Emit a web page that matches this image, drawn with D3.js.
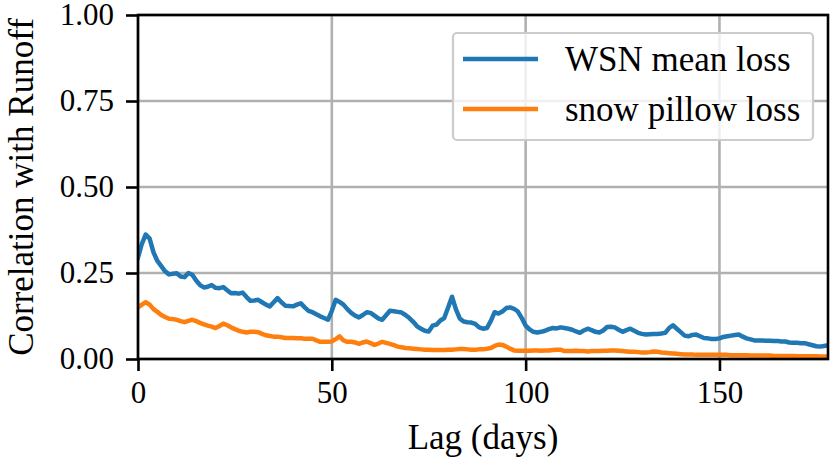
<!DOCTYPE html>
<html>
<head>
<meta charset="utf-8">
<script src="https://cdn.jsdelivr.net/npm/d3@7"></script>
<style>
  html, body { margin: 0; padding: 0; background: #fff; }
  svg { display: block; }
</style>
</head>
<body>
<svg id="chart" width="831" height="464"></svg>
<script>
// Lag-correlation between runoff and two loss estimates, lag 0..178 days
const wsnMeanLoss = [
  0.295, 0.335, 0.362, 0.350, 0.310, 0.285, 0.270, 0.255, 0.246, 0.248,
  0.249, 0.240, 0.238, 0.250, 0.245, 0.228, 0.215, 0.208, 0.210, 0.215,
  0.207, 0.206, 0.209, 0.200, 0.191, 0.192, 0.190, 0.193, 0.180, 0.169,
  0.170, 0.172, 0.165, 0.158, 0.153, 0.165, 0.177, 0.165, 0.155, 0.154,
  0.153, 0.158, 0.162, 0.150, 0.140, 0.136, 0.130, 0.124, 0.119, 0.114,
  0.140, 0.172, 0.166, 0.158, 0.145, 0.134, 0.126, 0.121, 0.128, 0.136,
  0.134, 0.126, 0.118, 0.114, 0.127, 0.140, 0.139, 0.137, 0.135, 0.128,
  0.119, 0.108, 0.095, 0.088, 0.082, 0.080, 0.097, 0.100, 0.112, 0.119,
  0.150, 0.181, 0.145, 0.118, 0.109, 0.107, 0.106, 0.102, 0.092, 0.088,
  0.090, 0.110, 0.136, 0.132, 0.138, 0.148, 0.150, 0.146, 0.138, 0.119,
  0.097, 0.086, 0.079, 0.077, 0.079, 0.082, 0.087, 0.090, 0.089, 0.092,
  0.090, 0.088, 0.085, 0.080, 0.076, 0.083, 0.088, 0.084, 0.079, 0.077,
  0.083, 0.093, 0.094, 0.092, 0.085, 0.079, 0.084, 0.088, 0.082, 0.076,
  0.073, 0.071, 0.072, 0.073, 0.073, 0.074, 0.076, 0.090, 0.098, 0.088,
  0.078, 0.068, 0.066, 0.070, 0.071, 0.066, 0.061, 0.060, 0.058, 0.058,
  0.060, 0.064, 0.066, 0.068, 0.070, 0.071, 0.065, 0.060, 0.057, 0.054,
  0.054, 0.054, 0.053, 0.053, 0.052, 0.052, 0.051, 0.051, 0.048, 0.047,
  0.047, 0.046, 0.046, 0.043, 0.040, 0.037, 0.036, 0.038, 0.040
];
const snowPillowLoss = [
  0.150, 0.158, 0.165, 0.158, 0.145, 0.137, 0.128, 0.122, 0.117, 0.116,
  0.114, 0.110, 0.107, 0.111, 0.114, 0.110, 0.105, 0.101, 0.097, 0.094,
  0.090, 0.096, 0.103, 0.098, 0.092, 0.087, 0.082, 0.079, 0.077, 0.079,
  0.079, 0.078, 0.073, 0.069, 0.067, 0.065, 0.065, 0.063, 0.061, 0.061,
  0.061, 0.060, 0.060, 0.059, 0.059, 0.059, 0.054, 0.050, 0.050, 0.050,
  0.051, 0.058, 0.066, 0.054, 0.050, 0.050, 0.048, 0.044, 0.048, 0.051,
  0.046, 0.041, 0.045, 0.050, 0.047, 0.044, 0.040, 0.036, 0.034, 0.032,
  0.031, 0.030, 0.029, 0.028, 0.027, 0.027, 0.026, 0.026, 0.026, 0.026,
  0.027, 0.027, 0.028, 0.029, 0.029, 0.028, 0.027, 0.027, 0.028, 0.028,
  0.030, 0.032, 0.038, 0.042, 0.041, 0.036, 0.030, 0.025, 0.024, 0.024,
  0.024, 0.024, 0.025, 0.025, 0.024, 0.025, 0.025, 0.026, 0.027, 0.027,
  0.023, 0.023, 0.023, 0.024, 0.023, 0.023, 0.022, 0.023, 0.023, 0.023,
  0.024, 0.024, 0.025, 0.025, 0.024, 0.023, 0.022, 0.021, 0.021, 0.020,
  0.019, 0.019, 0.020, 0.022, 0.021, 0.019, 0.018, 0.017, 0.016, 0.015,
  0.014, 0.013, 0.013, 0.013, 0.012, 0.012, 0.012, 0.012, 0.012, 0.012,
  0.012, 0.012, 0.012, 0.011, 0.011, 0.011, 0.011, 0.011, 0.010, 0.010,
  0.010, 0.010, 0.010, 0.010, 0.009, 0.009, 0.009, 0.009, 0.009, 0.009,
  0.008, 0.008, 0.008, 0.008, 0.008, 0.008, 0.007, 0.007, 0.007
];
const lags = d3.range(wsnMeanLoss.length);
const xTicks = [0, 50, 100, 150];
const yTicks = [0.00, 0.25, 0.50, 0.75, 1.00];
const seriesNames = ["WSN mean loss", "snow pillow loss"];
const seriesColors = ["#1f77b4", "#ff7f0e"];

const FONT = '"Liberation Serif", "Times New Roman", "DejaVu Serif", serif';

const svg = d3.select("#chart").attr("font-family", FONT);
const plot = { left: 138, right: 828, top: 15, bottom: 359 };

const x = d3.scaleLinear().domain([0, 178]).range([plot.left, plot.right]);
const y = d3.scaleLinear().domain([0, 1]).range([plot.bottom, plot.top]);

// grid
const grid = svg.append("g");
grid.selectAll("line.gx").data(xTicks).join("line")
  .attr("x1", d => x(d)).attr("x2", d => x(d))
  .attr("y1", plot.top).attr("y2", plot.bottom)
  .attr("stroke", "#b0b0b0").attr("stroke-width", 2.6);
grid.selectAll("line.gy").data(yTicks).join("line")
  .attr("x1", plot.left).attr("x2", plot.right)
  .attr("y1", d => y(d)).attr("y2", d => y(d))
  .attr("stroke", "#b0b0b0").attr("stroke-width", 2.6);

// series
svg.append("clipPath").attr("id", "plotclip").append("rect")
  .attr("x", plot.left).attr("y", plot.top)
  .attr("width", plot.right - plot.left).attr("height", plot.bottom - plot.top);

const line = d3.line().x((d, i) => x(lags[i])).y(d => y(d));
[wsnMeanLoss, snowPillowLoss].forEach((s, k) => {
  svg.append("path").datum(s)
    .attr("clip-path", "url(#plotclip)")
    .attr("fill", "none")
    .attr("stroke", seriesColors[k])
    .attr("stroke-width", 4.5)
    .attr("stroke-linejoin", "round")
    .attr("stroke-linecap", "square")
    .attr("d", line);
});

// axes
const xAxis = d3.axisBottom(x).tickValues(xTicks).tickFormat(d3.format("d"))
  .tickSize(12).tickPadding(10);
const yAxis = d3.axisLeft(y).tickValues(yTicks).tickFormat(d3.format(".2f"))
  .tickSize(12).tickPadding(12);

const gx = svg.append("g").attr("transform", `translate(0,${plot.bottom})`).call(xAxis);
const gy = svg.append("g").attr("transform", `translate(${plot.left},0)`).call(yAxis);
[gx, gy].forEach(g => {
  g.attr("font-family", FONT).attr("font-size", 31);
  g.select(".domain").remove();
  g.selectAll(".tick line").attr("stroke", "#000").attr("stroke-width", 2.6);
  g.selectAll(".tick text").attr("fill", "#000");
});

// frame
svg.append("rect")
  .attr("x", plot.left).attr("y", plot.top)
  .attr("width", plot.right - plot.left).attr("height", plot.bottom - plot.top)
  .attr("fill", "none").attr("stroke", "#000").attr("stroke-width", 2.6);

// axis titles
svg.append("text")
  .attr("x", (plot.left + plot.right) / 2).attr("y", 449)
  .attr("text-anchor", "middle").attr("font-size", 35)
  .text("Lag (days)");
svg.append("text")
  .attr("transform", `translate(33,${(plot.top + plot.bottom) / 2}) rotate(-90)`)
  .attr("text-anchor", "middle").attr("font-size", 35)
  .text("Correlation with Runoff");

// legend
const legend = svg.append("g");
legend.append("rect")
  .attr("x", 453).attr("y", 33).attr("width", 360).attr("height", 107)
  .attr("rx", 4).attr("ry", 4)
  .attr("fill", "#fff").attr("fill-opacity", 0.8)
  .attr("stroke", "#cccccc").attr("stroke-width", 2.2);
seriesNames.forEach((name, k) => {
  const ly = 59 + k * 50;
  legend.append("line")
    .attr("x1", 463).attr("x2", 538).attr("y1", ly).attr("y2", ly)
    .attr("stroke", seriesColors[k]).attr("stroke-width", 4.5);
  legend.append("text")
    .attr("x", 565).attr("y", ly + 12)
    .attr("font-size", 35)
    .text(name);
});
</script>
</body>
</html>
